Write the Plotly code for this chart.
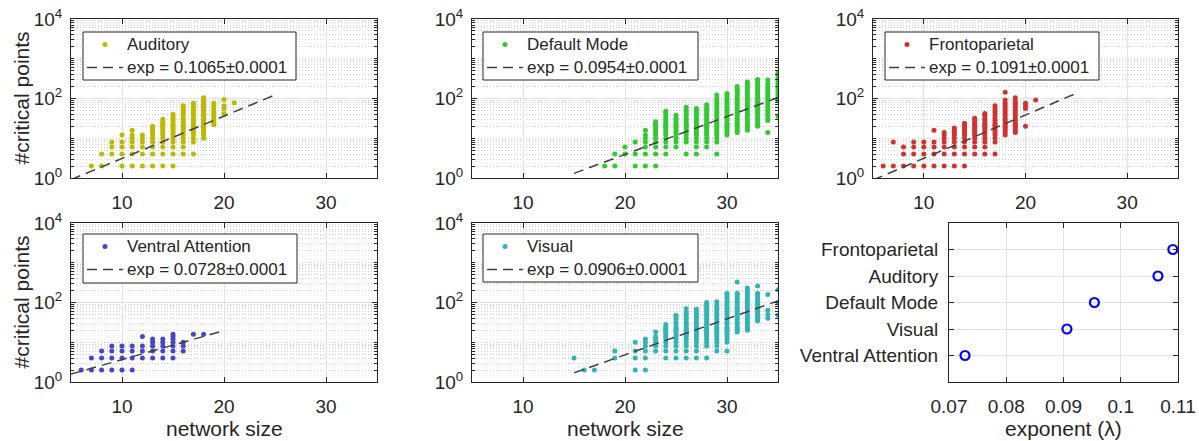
import plotly.graph_objects as go

# ---------------- data ----------------
AUD_COLS = [7, 8, 9, 10, 11, 12, 13, 14, 15, 16, 17, 18, 19, 20, 21]
AUD_VALS = [
    [2],
    [2, 4],
    [4, 6, 8],
    [2, 4, 6, 8, 12],
    [2, 4, 6, 8, 10, 12, 16],
    [2, 4, 6, 8, 10, 12],
    [2, 4, 6, 8, 10, 12, 14, 16, 18, 20],
    [2, 4, 6, 8, 10, 12, 14, 16, 18, 20, 22, 24, 26, 30],
    [2, 4, 6, 8, 10, 12, 14, 16, 18, 20, 22, 24, 28, 32, 36, 40],
    [4, 6, 8, 10, 12, 14, 16, 18, 20, 22, 24, 28, 32, 38, 44, 50, 58, 66],
    [4, 8, 10, 12, 14, 16, 18, 20, 22, 24, 28, 32, 38, 44, 50, 58, 66, 76],
    [10, 12, 14, 16, 18, 20, 22, 24, 28, 32, 38, 44, 50, 58, 66, 76, 88, 104],
    [22, 24, 26, 30, 34, 38, 44, 50, 58, 66, 76],
    [42, 56, 66, 94],
    [78],
]

DMN_COLS = [18, 19, 20, 21, 22, 23, 24, 25, 26, 27, 28, 29, 30, 31, 32, 33, 34, 35]
DMN_VALS = [
    [2],
    [2, 4],
    [4, 6],
    [2, 4, 8],
    [2, 4, 6, 8, 10, 12, 16],
    [2, 4, 6, 8, 10, 12, 14, 16, 18, 20, 22, 24, 26],
    [4, 6, 8, 10, 12, 14, 16, 18, 20, 22, 24, 28, 32, 38, 44, 48],
    [6, 8, 10, 12, 14, 16, 18, 20, 22, 24, 28, 32, 38],
    [4, 8, 10, 12, 14, 16, 18, 20, 22, 24, 28, 32, 38, 44, 50, 60],
    [4, 6, 8, 10, 12, 14, 16, 18, 20, 22, 24, 28, 32, 38, 44, 50, 56],
    [6, 8, 10, 12, 14, 16, 18, 20, 22, 24, 28, 32, 38, 44, 50, 58, 70],
    [4, 8, 10, 12, 14, 16, 18, 20, 22, 24, 28, 32, 38, 44, 50, 58, 66, 76, 88, 100, 122],
    [12, 14, 16, 18, 20, 22, 24, 28, 32, 38, 44, 50, 58, 66, 76, 88, 100, 116, 134],
    [14, 16, 18, 20, 22, 24, 28, 32, 38, 44, 50, 58, 66, 76, 88, 100, 116, 134, 154, 176, 200],
    [16, 18, 20, 22, 24, 28, 32, 38, 44, 50, 58, 66, 76, 88, 100, 116, 134, 154, 176, 200, 230, 260],
    [20, 22, 24, 28, 32, 38, 44, 50, 58, 66, 76, 88, 100, 116, 134, 154, 176, 200, 230, 264, 300],
    [14, 28, 32, 38, 44, 50, 58, 66, 76, 88, 100, 116, 134, 154, 176, 200, 230, 290],
    [36, 92, 100, 116, 134, 154, 176, 200, 230, 264, 300, 350, 400, 440],
]

FPN_COLS = [6, 7, 8, 9, 10, 11, 12, 13, 14, 15, 16, 17, 18, 19, 20, 21]
FPN_VALS = [
    [2],
    [2, 8],
    [2, 4, 6],
    [2, 4, 6, 8],
    [2, 4, 6, 8],
    [2, 4, 6, 8, 16],
    [2, 4, 6, 8, 10, 12, 14],
    [2, 4, 6, 8, 10, 12, 14, 16, 18],
    [2, 4, 6, 8, 10, 12, 14, 16, 18, 20, 22, 24],
    [4, 6, 8, 10, 12, 14, 16, 18, 20, 22, 24, 28, 32],
    [4, 6, 8, 10, 12, 14, 16, 18, 20, 22, 24, 28, 32, 38, 42],
    [4, 8, 10, 12, 14, 16, 18, 20, 22, 24, 28, 32, 38, 44, 50, 58, 66],
    [12, 14, 16, 18, 20, 22, 24, 28, 32, 38, 44, 50, 58, 66, 76, 92, 144],
    [14, 16, 18, 20, 22, 24, 28, 32, 38, 44, 50, 58, 66, 76, 88, 104],
    [20, 56, 66, 76],
    [92],
]

VAN_COLS = [6, 7, 8, 9, 10, 11, 12, 13, 14, 15, 16, 17, 18]
VAN_VALS = [
    [2],
    [2, 4],
    [2, 4, 6],
    [2, 4, 6, 8],
    [2, 4, 6, 8],
    [2, 4, 6, 8],
    [4, 6, 8, 14],
    [4, 6, 8, 10, 12],
    [4, 6, 8, 10, 12],
    [4, 6, 8, 10, 12, 14, 16],
    [6, 8, 10],
    [16],
    [16],
]

VIS_COLS = [15, 16, 17, 19, 21, 22, 23, 24, 25, 26, 27, 28, 29, 30, 31, 32, 33, 34, 35]
VIS_VALS = [
    [4],
    [2],
    [2],
    [4, 6],
    [2, 4, 6, 10],
    [2, 4, 6, 8, 10, 12],
    [6, 8, 10, 12, 14, 18],
    [4, 6, 8, 10, 12, 14, 16, 18, 20, 22, 24, 28],
    [4, 6, 8, 10, 12, 14, 16, 18, 20, 22, 24, 28, 32, 38, 44, 48],
    [4, 6, 8, 10, 12, 14, 16, 18, 20, 22, 24, 28, 32, 38, 44, 50, 58, 70],
    [4, 6, 8, 10, 12, 14, 16, 18, 20, 22, 24, 28, 32, 38, 44, 50, 58, 68],
    [4, 8, 10, 12, 14, 16, 18, 20, 22, 24, 28, 32, 38, 44, 50, 58, 66, 76, 88, 100],
    [6, 8, 10, 12, 14, 16, 18, 20, 22, 24, 28, 32, 38, 44, 50, 58, 66, 76, 88, 104],
    [6, 10, 12, 14, 16, 18, 20, 22, 24, 28, 32, 38, 44, 50, 58, 66, 76, 88, 100, 116, 134, 154, 170],
    [18, 20, 22, 24, 28, 32, 38, 44, 50, 58, 66, 76, 88, 100, 116, 134, 154, 170, 330],
    [20, 22, 24, 28, 32, 38, 44, 50, 58, 66, 76, 88, 100, 116, 134, 154, 176, 200, 232],
    [34, 38, 44, 50, 58, 66, 76, 88, 100, 116, 134, 154, 170, 260],
    [40, 50, 64, 160],
    [48, 100, 210],
]

NET_NAMES = ["Auditory", "Default Mode", "Frontoparietal", "Ventral Attention", "Visual"]
NET_COLORS = ["#bdb800", "#33c933", "#d03232", "#4646c8", "#32b4b4"]
FIT_LABELS = ["exp = 0.1065\u00b10.0001", "exp = 0.0954\u00b10.0001", "exp = 0.1091\u00b10.0001",
              "exp = 0.0728\u00b10.0001", "exp = 0.0906\u00b10.0001"]
FIT_X = [[5, 25], [15, 35], [5, 25], [5, 20], [15, 35]]
FIT_Y = [[0.91, 123], [1.31, 106], [0.89, 135], [1.58, 19.6], [1.7, 110]]

EXP_NAMES = ["Ventral Attention", "Visual", "Default Mode", "Auditory", "Frontoparietal"]
EXP_VALUES = [0.0728, 0.0906, 0.0954, 0.1065, 0.1091]

X_TICKS = [10, 20, 30]
Y_TICKS = [1, 100, 10000]
Y_TICKTEXT = ["10<sup>0</sup>", "10<sup>2</sup>", "10<sup>4</sup>"]
EXP_TICKS = [0.07, 0.08, 0.09, 0.1, 0.11]
EXP_TICKTEXT = ["0.07", "0.08", "0.09", "0.1", "0.11"]

# ---------------- layout geometry ----------------
W, H = 1199, 441
FONT = "Liberation Sans, Arial, Helvetica, sans-serif"
TXT = "#262626"
TICK_FONT = dict(size=19, color=TXT, family=FONT)

def px_x(a, b):
    return [a / W, b / W]

def px_y(top, bottom):
    return [1 - bottom / H, 1 - top / H]

X_DOMS = [px_x(71, 377), px_x(472, 778), px_x(873, 1178), px_x(71, 377), px_x(472, 778)]
Y_DOMS = [px_y(19, 178), px_y(19, 178), px_y(19, 178), px_y(223, 382), px_y(223, 382)]
# legend boxes: left, top, right, bottom (pixels)
LEG_BOX = [(83, 32, 296, 80), (483, 32, 698, 80), (885, 32, 1099, 80),
           (83, 234, 297, 283), (483, 234, 698, 282)]

ALL_COLS = [AUD_COLS, DMN_COLS, FPN_COLS, VAN_COLS, VIS_COLS]
ALL_VALS = [AUD_VALS, DMN_VALS, FPN_VALS, VAN_VALS, VIS_VALS]

fig = go.Figure()
layout = {}
shapes = []
ann = []

def pxx(v):
    return v / W

def pxy(v):
    return 1 - v / H

for i in range(5):
    n = i + 1
    xa = "x" if n == 1 else f"x{n}"
    ya = "y" if n == 1 else f"y{n}"
    xs, ys = [], []
    for c, vals in zip(ALL_COLS[i], ALL_VALS[i]):
        for v in vals:
            xs.append(c)
            ys.append(v)
    fig.add_trace(go.Scatter(
        x=xs, y=ys, mode="markers", name=NET_NAMES[i], showlegend=False,
        marker=dict(color=NET_COLORS[i], size=5, line=dict(width=0)),
        xaxis=xa, yaxis=ya, cliponaxis=True))
    fig.add_trace(go.Scatter(
        x=FIT_X[i], y=FIT_Y[i], mode="lines", name=FIT_LABELS[i], showlegend=False,
        line=dict(color="#404040", width=1.5, dash="10px,6px"),
        xaxis=xa, yaxis=ya))

    xkey = "xaxis" if n == 1 else f"xaxis{n}"
    ykey = "yaxis" if n == 1 else f"yaxis{n}"
    layout[xkey] = dict(
        domain=X_DOMS[i], anchor=ya, range=[5, 35], tickmode="array", tickvals=X_TICKS,
        ticks="inside", ticklen=5, tickcolor=TXT, showline=True, mirror="allticks",
        linecolor=TXT, linewidth=1, showgrid=True, gridcolor="#e2e2e2", zeroline=False,
        automargin=False, tickfont=TICK_FONT, ticklabelstandoff=7)
    layout[ykey] = dict(
        domain=Y_DOMS[i], anchor=xa, type="log", range=[0, 4], tickmode="array",
        tickvals=Y_TICKS, ticktext=Y_TICKTEXT, ticks="inside", ticklen=5, tickcolor=TXT,
        showline=True, mirror="allticks", linecolor=TXT, linewidth=1, showgrid=True,
        gridcolor="#e2e2e2", zeroline=False, automargin=False,
        tickfont=TICK_FONT, ticklabelstandoff=4,
        minor=dict(ticks="inside", ticklen=3, tickcolor=TXT, dtick="D1",
                   showgrid=True, gridcolor="#cfcfcf", griddash="1px,2px", gridwidth=1))

    # legend box (drawn like the MATLAB legend)
    l, t, r, b = LEG_BOX[i]
    shapes.append(dict(type="rect", xref="paper", yref="paper",
                       x0=pxx(l), x1=pxx(r), y0=pxy(b), y1=pxy(t),
                       fillcolor="white", line=dict(color=TXT, width=1), layer="above"))
    cy1 = t + 12.5
    cy2 = t + 35.5
    shapes.append(dict(type="circle", xref="paper", yref="paper",
                       x0=pxx(l + 22 - 2.5), x1=pxx(l + 22 + 2.5),
                       y0=pxy(cy1 + 2.5), y1=pxy(cy1 - 2.5),
                       fillcolor=NET_COLORS[i], line=dict(width=0), layer="above"))
    shapes.append(dict(type="line", xref="paper", yref="paper",
                       x0=pxx(l + 4), x1=pxx(l + 40), y0=pxy(cy2), y1=pxy(cy2),
                       line=dict(color="#404040", width=1.5, dash="10px,6px"), layer="above"))
    for txt, cy in ((NET_NAMES[i], cy1), (FIT_LABELS[i], cy2)):
        ann.append(dict(text=txt, x=pxx(l + 42), y=pxy(cy), xref="paper", yref="paper",
                        showarrow=False, xanchor="left", yanchor="middle",
                        font=dict(size=17, color=TXT, family=FONT)))

# summary panel
fig.add_trace(go.Scatter(
    x=EXP_VALUES, y=EXP_NAMES, mode="markers", showlegend=False,
    marker=dict(symbol="circle-open", color="#0000ff", size=9, line=dict(width=2.2, color="#0000ff")),
    xaxis="x6", yaxis="y6"))
layout["xaxis6"] = dict(
    domain=px_x(949, 1178), anchor="y6", range=[0.07, 0.11], tickmode="array",
    tickvals=EXP_TICKS, ticktext=EXP_TICKTEXT, ticks="inside", ticklen=5, tickcolor=TXT,
    showline=True, mirror="allticks", linecolor=TXT, linewidth=1, showgrid=True,
    gridcolor="#e2e2e2", zeroline=False, automargin=False,
    tickfont=TICK_FONT, ticklabelstandoff=7)
layout["yaxis6"] = dict(
    domain=px_y(223, 382), anchor="x6", type="category", categoryorder="array",
    categoryarray=EXP_NAMES, range=[-1, 5], ticks="inside", ticklen=5, tickcolor=TXT,
    showline=True, mirror="allticks", linecolor=TXT, linewidth=1, showgrid=True,
    gridcolor="#e2e2e2", zeroline=False, automargin=False,
    tickfont=TICK_FONT, ticklabelstandoff=6)

def title(text, x, y, angle=0):
    ann.append(dict(text=text, x=x / W, y=1 - y / H, xref="paper", yref="paper",
                    showarrow=False, textangle=angle, xanchor="center", yanchor="middle",
                    font=dict(size=21, color=TXT, family=FONT)))

title("#critical points", 21, 98.5, -90)
title("#critical points", 21, 302.5, -90)
title("network size", 224, 428)
title("network size", 625, 428)
title("exponent (\u03bb)", 1063.5, 428)

fig.update_layout(
    width=W, height=H, margin=dict(l=0, r=0, t=0, b=0, autoexpand=False), autosize=False,
    paper_bgcolor="white", plot_bgcolor="white", showlegend=False,
    font=dict(family=FONT, color=TXT), annotations=ann, shapes=shapes, **layout)

fig.write_html("out.html")
